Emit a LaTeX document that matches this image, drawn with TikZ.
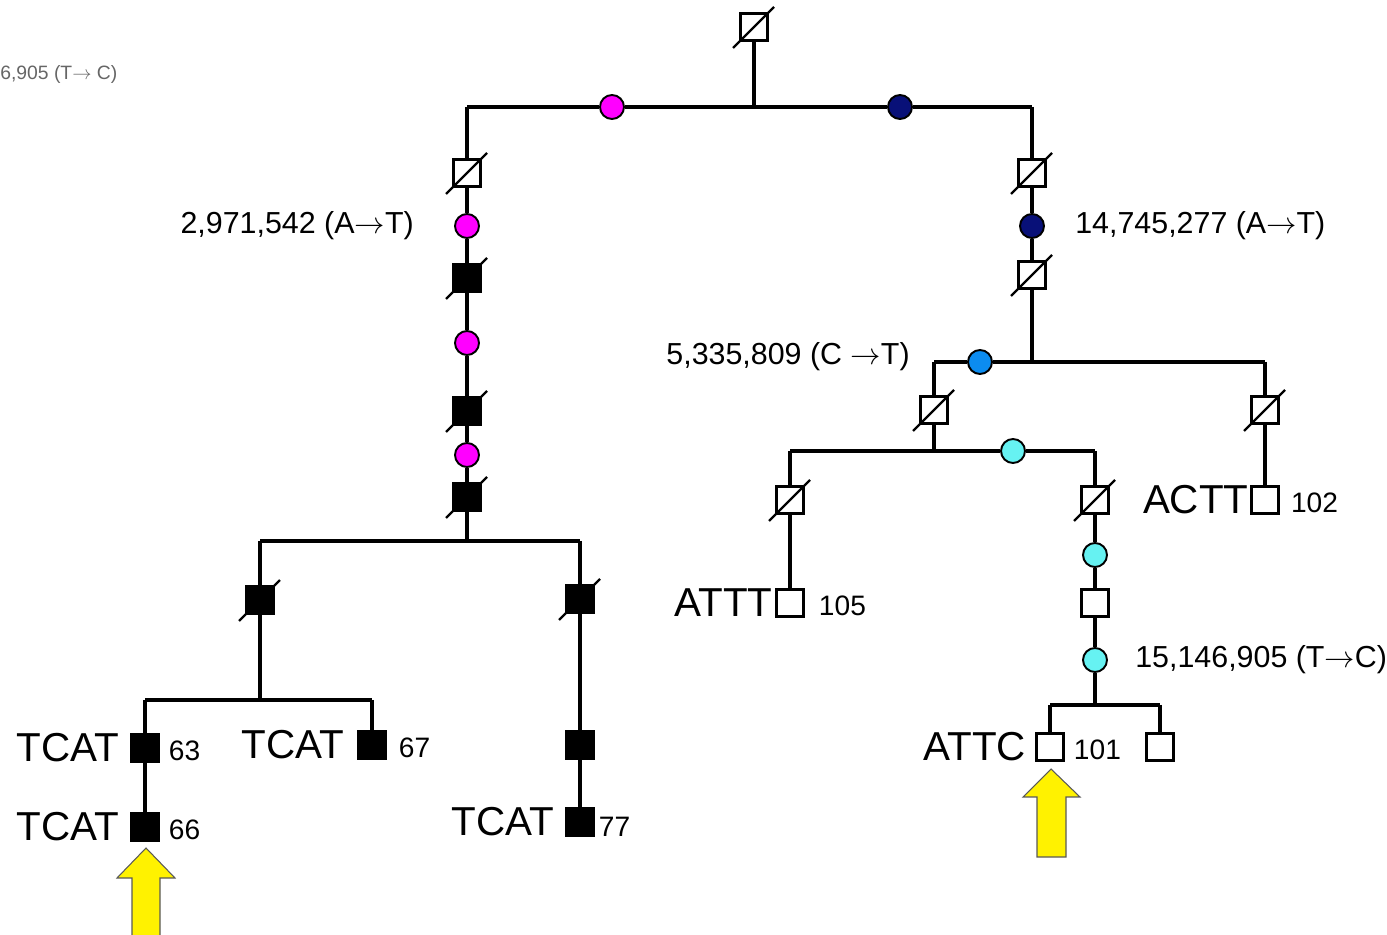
\documentclass[tikz,border=0pt]{standalone}
\usepackage{fontspec}
\setmainfont{Liberation Sans}
\usepackage{xcolor}
\usepackage{tikz}
\usetikzlibrary{positioning,backgrounds}
\definecolor{snpmag}{RGB}{255,0,255}
\definecolor{snpnavy}{RGB}{8,16,120}
\definecolor{snpblue}{RGB}{12,140,240}
\definecolor{snpcyan}{RGB}{102,242,242}

\begin{document}
\begin{tikzpicture}[
    x=0.02cm, y=-0.02cm,
    sq/.style={draw, line width=1.3pt, fill=white, minimum size=5.4mm, inner sep=0pt},
    blk/.style={sq, fill=black},
    snp/.style={circle, draw, line width=1.1pt, minimum size=4.8mm, inner sep=0pt},
    lineage/.style={line width=1.9pt},
    hap/.style={font=\fontsize{23}{26}\selectfont, inner sep=0pt},
    num/.style={font=\fontsize{16}{19}\selectfont, inner sep=0pt, yshift=-0.6mm},
    mut/.style={font=\fontsize{17.3}{20}\selectfont, inner sep=0pt},
    hint/.style={fill=yellow, draw=gray!70!black, line width=0.6pt}
]
\useasboundingbox (0,0) rectangle (1387,935);

\node[font=\fontsize{11}{13}\selectfont, text=gray!80!black, anchor=west, inner sep=0pt] (cut) at (0,75) {6,905 (T$\rightarrow$ C)};

% founder and first split
\node[sq] (root) at (754,27) {};
\coordinate (r0) at (754,107);
\coordinate (hl) at (467,107);
\coordinate (hr) at (1032,107);
\node[snp, fill=snpmag] (m0) at (612,107) {};
\node[snp, fill=snpnavy] (n0) at (900,107) {};

% left lineage
\node[sq] (a1) at (467,173) {};
\node[snp, fill=snpmag] (m1) at (467,226) {};
\node[blk] (a2) at (467,278) {};
\node[snp, fill=snpmag] (m2) at (467,343) {};
\node[blk] (a3) at (467,411) {};
\node[snp, fill=snpmag] (m3) at (467,455) {};
\node[blk] (a4) at (467,497) {};
\coordinate (a5) at (467,541);
\coordinate (bl) at (260,541);
\coordinate (br) at (580,541);
\node[blk] (b1) at (260,600) {};
\coordinate (b2) at (260,700);
\coordinate (cl) at (145,700);
\coordinate (cr) at (372,700);
\node[blk] (t63) at (145,748) {};
\node[blk] (t66) at (145,827) {};
\node[blk] (t67) at (372,745) {};
\node[blk] (d1) at (580,599) {};
\node[blk] (d2) at (580,745) {};
\node[blk] (t77) at (580,822) {};

% right lineage
\node[sq] (e1) at (1032,173) {};
\node[snp, fill=snpnavy] (n1) at (1032,226) {};
\node[sq] (e2) at (1032,275) {};
\coordinate (e3) at (1032,362);
\coordinate (fl) at (934,362);
\coordinate (fr) at (1265,362);
\node[snp, fill=snpblue] (u0) at (980,362) {};
\node[sq] (f1) at (934,410) {};
\coordinate (f2) at (934,451);
\coordinate (gl) at (790,451);
\coordinate (gr) at (1095,451);
\node[snp, fill=snpcyan] (c0) at (1013,451) {};
\node[sq] (g1) at (1265,410) {};
\node[sq] (s102) at (1265,500) {};
\node[sq] (h1) at (790,500) {};
\node[sq] (s105) at (790,603) {};
\node[sq] (k1) at (1095,500) {};
\node[snp, fill=snpcyan] (c1) at (1095,555) {};
\node[sq] (k2) at (1095,603) {};
\node[snp, fill=snpcyan] (c2) at (1095,660) {};
\coordinate (k3) at (1095,705);
\coordinate (ql) at (1050,705);
\coordinate (qr) at (1160,705);
\node[sq] (s101) at (1050,747) {};
\node[sq] (s0) at (1160,747) {};

\begin{scope}[on background layer]
\draw[lineage] (root) -- (r0);
\draw[lineage] (hl) -- (m0) -- (n0) -- (hr);
\draw[lineage] (hl) -- (a1) -- (m1) -- (a2) -- (m2) -- (a3) -- (m3) -- (a4) -- (a5);
\draw[lineage] (bl) -- (br);
\draw[lineage] (bl) -- (b1) -- (b2);
\draw[lineage] (cl) -- (cr);
\draw[lineage] (cl) -- (t63) -- (t66);
\draw[lineage] (cr) -- (t67);
\draw[lineage] (br) -- (d1) -- (d2) -- (t77);
\draw[lineage] (hr) -- (e1) -- (n1) -- (e2) -- (e3);
\draw[lineage] (fl) -- (u0) -- (fr);
\draw[lineage] (fl) -- (f1) -- (f2);
\draw[lineage] (fr) -- (g1) -- (s102);
\draw[lineage] (gl) -- (c0) -- (gr);
\draw[lineage] (gl) -- (h1) -- (s105);
\draw[lineage] (gr) -- (k1) -- (c1) -- (k2) -- (c2) -- (k3);
\draw[lineage] (ql) -- (qr);
\draw[lineage] (ql) -- (s101);
\draw[lineage] (qr) -- (s0);
\end{scope}

\foreach \s in {root,a1,a2,a3,a4,b1,d1,e1,e2,f1,g1,h1,k1}
    \draw[line width=1.3pt] (\s.center) ++(-0.42cm,-0.42cm) -- ++(0.82cm,0.82cm);

\node[mut, left=8mm of m1] (lm1) {2,971,542 (A$\rightarrow$T)};
\node[mut, right=6mm of n1] (ln1) {14,745,277 (A$\rightarrow$T)};
\node[mut, anchor=east] (lu0) at (910,357) {5,335,809 (C $\rightarrow$T)};
\node[mut, right=5.4mm of c2] (lc2) {15,146,905 (T$\rightarrow$C)};

\node[hap, left=2.2mm of t63] (h63) {TCAT};
\node[num, right=1.8mm of t63] (n63) {63};
\node[hap, left=2.2mm of t66] (h66) {TCAT};
\node[num, right=1.8mm of t66] (n66) {66};
\node[hap, left=2.6mm of t67] (h67) {TCAT};
\node[num, right=2.4mm of t67] (n67) {67};
\node[hap, left=2.2mm of t77] (h77) {TCAT};
\node[num, right=0.8mm of t77, yshift=-0.4mm] (n77) {77};
\node[hap, left=0.5mm of s105] (h105) {ATTT};
\node[num, right=2.8mm of s105] (n105) {105};
\node[hap, left=0.3mm of s102] (h102) {ACTT};
\node[num, right=2.2mm of s102] (n102) {102};
\node[hap, left=1.8mm of s101] (h101) {ATTC};
\node[num, right=1.8mm of s101] (n101) {101};

\filldraw[hint] (132,935) -- (132,878) -- (117,878) -- (146,848) -- (175,878) -- (160,878) -- (160,935);
\filldraw[hint] (1037,857) -- (1037,797) -- (1023,797) -- (1051,769) -- (1080,797) -- (1066,797) -- (1066,857) -- cycle;
\end{tikzpicture}
\end{document}
